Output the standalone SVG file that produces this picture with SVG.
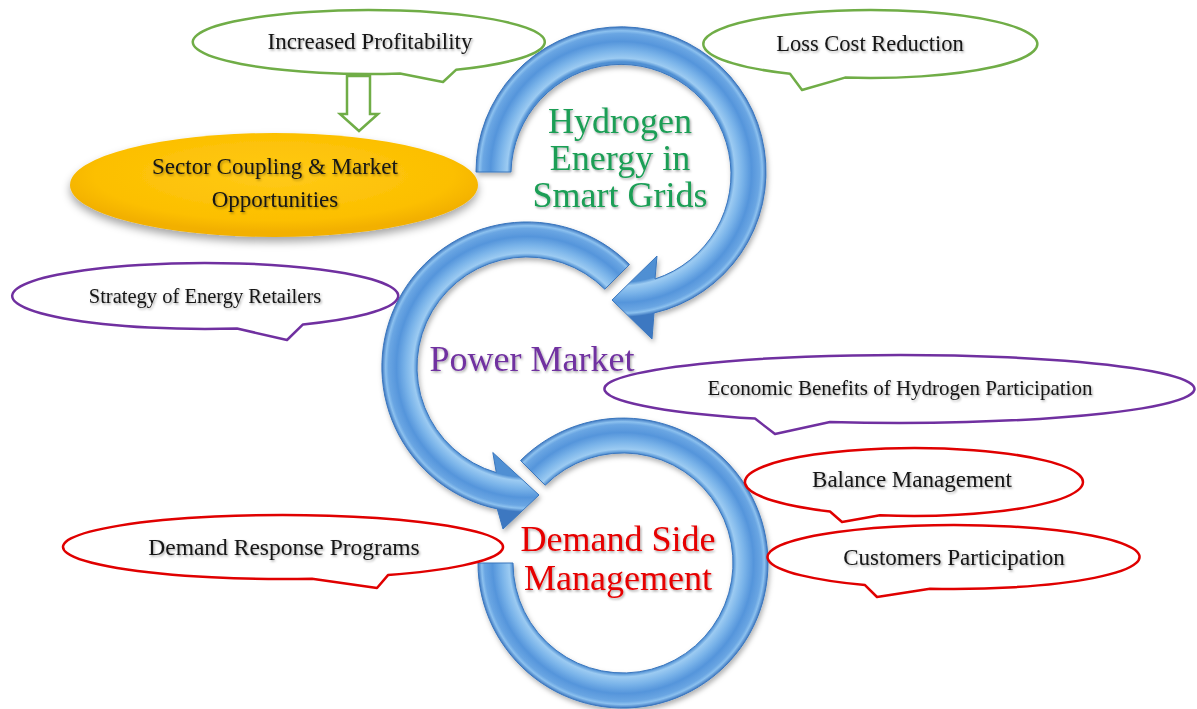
<svg xmlns="http://www.w3.org/2000/svg" width="1197" height="709" viewBox="0 0 1197 709">
  <defs>
    <style>
      .lbl { font-family: "Liberation Serif", "Times New Roman", serif; fill: #151515; text-anchor: middle; filter: url(#tshadow); }
      .big { font-family: "Liberation Serif", "Times New Roman", serif; font-size: 36px; text-anchor: middle; filter: url(#tshadow); }
      .callout { fill: #ffffff; stroke-width: 2.5; stroke-linejoin: round; }
      .green { stroke: #70ad47; }
      .purple { stroke: #7030a0; }
      .red { stroke: #e00000; }
      .ring { stroke: #3a76bd; stroke-width: 1; filter: url(#ashadow); }
    </style>
    <filter id="tshadow" x="-10%" y="-30%" width="120%" height="160%">
      <feDropShadow dx="1.2" dy="1.5" stdDeviation="0.9" flood-color="#000" flood-opacity="0.35"/>
    </filter>
    <filter id="ashadow" x="-10%" y="-10%" width="120%" height="125%">
      <feDropShadow dx="1.5" dy="3" stdDeviation="2.5" flood-color="#000" flood-opacity="0.3"/>
    </filter>
    <filter id="yshadow" x="-10%" y="-20%" width="120%" height="150%">
      <feDropShadow dx="0" dy="5" stdDeviation="4" flood-color="#000" flood-opacity="0.35"/>
    </filter>
    <!-- bevelled tube shading, one per ring centre -->
    <radialGradient id="ring1" gradientUnits="userSpaceOnUse" cx="621" cy="172" r="145">
      <stop offset="0" stop-color="#5293d6"/>
      <stop offset="0.76" stop-color="#4f8fd3"/>
      <stop offset="0.785" stop-color="#9ccbf2"/>
      <stop offset="0.84" stop-color="#79b3e9"/>
      <stop offset="0.9" stop-color="#5595db"/>
      <stop offset="0.955" stop-color="#6aa6e3"/>
      <stop offset="0.975" stop-color="#8cc1ef"/>
      <stop offset="1" stop-color="#3e78c1"/>
    </radialGradient>
    <radialGradient id="ring2" href="#ring1" cx="527" cy="367"/>
    <radialGradient id="ring3" href="#ring1" cx="623" cy="563"/>
    <radialGradient id="gold" cx="0.5" cy="0.4" r="0.55">
      <stop offset="0" stop-color="#ffca18"/>
      <stop offset="0.8" stop-color="#fcbf00"/>
      <stop offset="1" stop-color="#f2b000"/>
    </radialGradient>
  </defs>

  <rect width="1197" height="709" fill="#ffffff"/>

  <!-- cycle arrows and the block arrow -->
  <g id="connectors">
    <path id="arrow-hydrogen" class="ring" fill="url(#ring1)"
          d="M 476,172 A 145 145 0 1 1 654,313 L 652,339 L 612,300 L 657,256 L 655,279 A 110 110 0 1 0 511,172 Z"/>
    <path id="arrow-market" class="ring" fill="url(#ring2)"
          d="M 629.5,264.5 A 145 145 0 1 0 497.3,508.9 L 503,529 L 539,495 L 492.8,452.5 L 496.3,472.6 A 110 110 0 1 1 604.8,289.2 Z"/>
    <path id="arrow-demand" class="ring" fill="url(#ring3)"
          d="M 520.5,460.5 A 145 145 0 1 1 478,563 L 513,563 A 110 110 0 1 0 545.2,485.2 Z"/>
    <path id="arrow-profit" fill="#ffffff" stroke="#70ad47" stroke-width="2.5" stroke-linejoin="miter"
          d="M 347,76 L 370,76 L 370,114 L 378,114 L 359,131 L 340,114 L 347,114 Z"/>
  </g>

  <g id="sector-coupling">
    <ellipse cx="274" cy="185" rx="204" ry="52" fill="url(#gold)" filter="url(#yshadow)"/>
    <text class="lbl" x="275" y="174" font-size="23">Sector Coupling &amp; Market</text>
    <text class="lbl" x="275" y="207" font-size="23">Opportunities</text>
  </g>

  <g id="hydrogen-title">
    <text class="big" fill="#1a9e55" x="620" y="133">Hydrogen</text>
    <text class="big" fill="#1a9e55" x="620" y="170">Energy in</text>
    <text class="big" fill="#1a9e55" x="620" y="207">Smart Grids</text>
  </g>

  <g id="power-market-title">
    <text class="big" fill="#7030a0" x="532" y="371">Power Market</text>
  </g>

  <g id="dsm-title">
    <text class="big" fill="#e60000" x="618" y="551">Demand Side</text>
    <text class="big" fill="#e60000" x="618" y="590">Management</text>
  </g>

  <g id="increased-profitability">
    <path class="callout green" d="M 456,69.8 A 176 32 0 1 0 400,73.5 L 443,82 Z"/>
    <text class="lbl" x="370" y="49" font-size="23">Increased Profitability</text>
  </g>

  <g id="loss-cost-reduction">
    <path class="callout green" d="M 845,77.6 A 167 34 0 1 0 790,73.8 L 802,90 Z"/>
    <text class="lbl" x="870" y="51" font-size="22.5">Loss Cost Reduction</text>
  </g>

  <g id="energy-retailers">
    <path class="callout purple" d="M 303,324.4 A 193 33 0 1 0 237,328.5 L 287,340 Z"/>
    <text class="lbl" x="205" y="303" font-size="20.5">Strategy of Energy Retailers</text>
  </g>

  <g id="economic-benefits">
    <path class="callout purple" d="M 830,422 A 295 34 0 1 0 755,418.6 L 775,434 Z"/>
    <text class="lbl" x="900" y="395" font-size="21">Economic Benefits of Hydrogen Participation</text>
  </g>

  <g id="balance-management">
    <path class="callout red" d="M 880,515.3 A 169 34 0 1 0 830,511.5 L 842,522 Z"/>
    <text class="lbl" x="912" y="487" font-size="23">Balance Management</text>
  </g>

  <g id="customers-participation">
    <path class="callout red" d="M 930,588.7 A 186 32 0 1 0 865,585.1 L 877,597 Z"/>
    <text class="lbl" x="954" y="565" font-size="23">Customers Participation</text>
  </g>

  <g id="demand-response">
    <path class="callout red" d="M 388,575.1 A 220 32 0 1 0 312,578.7 L 377,588 Z"/>
    <text class="lbl" x="284" y="555" font-size="23.5">Demand Response Programs</text>
  </g>
</svg>
